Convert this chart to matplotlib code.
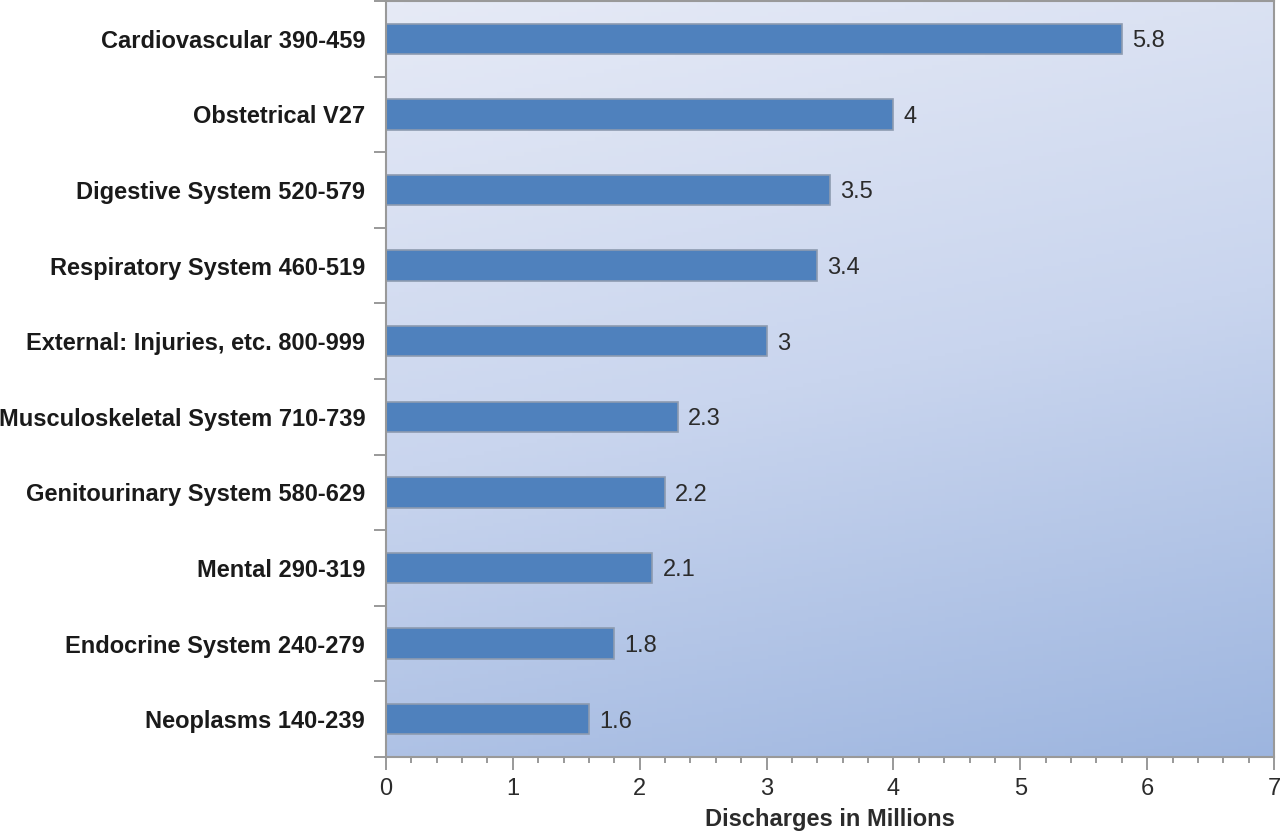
import numpy as np
import matplotlib.pyplot as plt
from matplotlib.ticker import MultipleLocator, FixedLocator
from matplotlib.colors import LinearSegmentedColormap

categories = [
    'Cardiovascular 390-459',
    'Obstetrical V27',
    'Digestive System 520-579',
    'Respiratory System 460-519',
    'External: Injuries, etc. 800-999',
    'Musculoskeletal System 710-739',
    'Genitourinary System 580-629',
    'Mental 290-319',
    'Endocrine System 240-279',
    'Neoplasms 140-239',
]
discharges = [5.8, 4, 3.5, 3.4, 3, 2.3, 2.2, 2.1, 1.8, 1.6]
value_labels = ['5.8', '4', '3.5', '3.4', '3', '2.3', '2.2', '2.1', '1.8', '1.6']

plt.rcParams['font.family'] = ['Liberation Sans', 'DejaVu Sans']

fig = plt.figure(figsize=(12.8, 8.33), dpi=100)
ax = fig.add_axes([386 / 1280, 1 - 757 / 833, (1274 - 386) / 1280, 756 / 833])

# background gradient, light at top-left to darker blue at bottom-right
n = 200
xx, yy = np.meshgrid(np.linspace(0, 1, n), np.linspace(0, 1, n))
t = 0.8 * yy + 0.2 * xx
grad = LinearSegmentedColormap.from_list('bg', ['#e6eaf6', '#c9d5ee', '#9db5df'])
ax.imshow(t, cmap=grad, extent=[0, 1, 0, 1], transform=ax.transAxes,
          aspect='auto', origin='upper', zorder=0)

pos = np.arange(len(categories))
ax.barh(pos, discharges, height=0.4, color='#4f81bd', edgecolor='#8d9bb0',
        linewidth=1.2, zorder=2)
for p, v, lab in zip(pos, discharges, value_labels):
    ax.text(v + 0.08, p, lab, va='center_baseline', ha='left', fontsize=17,
            color='#2b2b2b', zorder=3)

ax.set_xlim(0, 7)
ax.set_ylim(len(categories) - 0.5, -0.5)
ax.set_yticks(pos)
ax.set_yticklabels(categories, fontsize=17, fontweight='bold', color='#1a1a1a')
ax.yaxis.set_minor_locator(FixedLocator(np.arange(-0.5, len(categories), 1)))
ax.tick_params(axis='y', which='major', length=0, pad=15)
ax.tick_params(axis='y', which='minor', length=9, color='#888888', width=1.2)

ax.xaxis.set_major_locator(MultipleLocator(1))
ax.xaxis.set_minor_locator(MultipleLocator(0.2))
ax.tick_params(axis='x', which='major', length=9, color='#888888', width=1.2,
               labelsize=17, labelcolor='#2b2b2b', pad=6)
ax.tick_params(axis='x', which='minor', length=4, color='#888888', width=1.2)
ax.set_xlabel('Discharges in Millions', fontsize=17, fontweight='bold',
              color='#2b2b2b', labelpad=6)

for side in ['left', 'bottom', 'top', 'right']:
    ax.spines[side].set_color('#999999')
    ax.spines[side].set_linewidth(1.5)
ax.spines['left'].set_zorder(4)

fig.savefig('out.png', dpi=100)
